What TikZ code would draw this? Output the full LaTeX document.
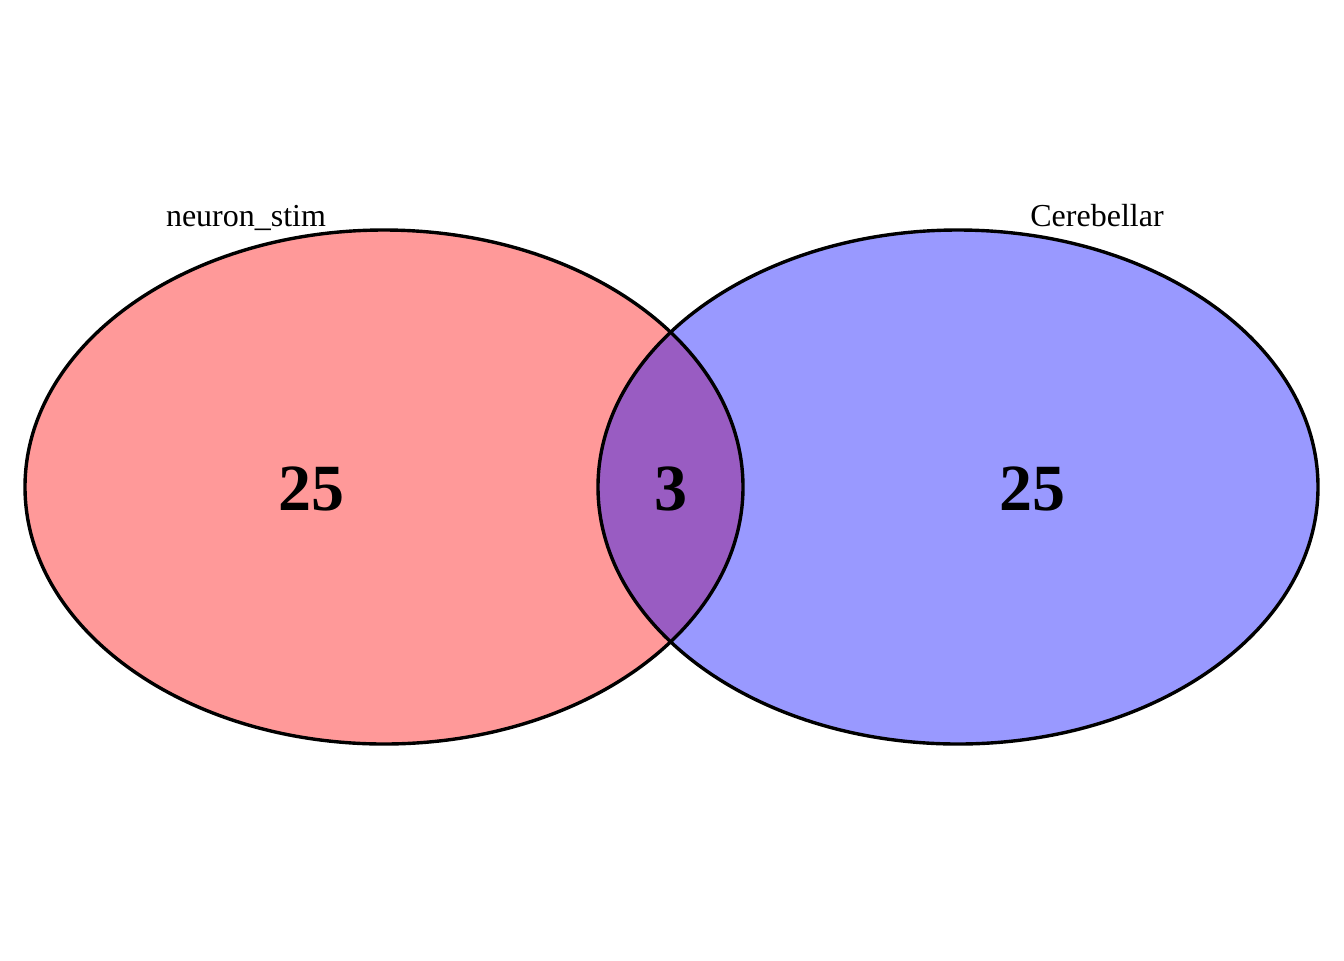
\documentclass[tikz,border=0pt]{standalone}
\usepackage{fontspec}
\setmainfont{Liberation Serif}
\begin{document}
\begin{tikzpicture}[x=0.5pt,y=-0.5pt,
  ring/.style={draw=black,line width=1.7pt},
  setname/.style={anchor=base,font=\fontsize{16}{18}\selectfont,inner sep=0pt},
  count/.style={anchor=base,font=\fontsize{33}{36}\selectfont\bfseries,inner sep=0pt}]
\useasboundingbox (0,0) rectangle (1344,960);
\fill[red,fill opacity=0.4] (384,487) ellipse [x radius=359,y radius=257];
\fill[blue,fill opacity=0.4] (958,487) ellipse [x radius=360,y radius=257];
\draw[ring] (384,487) ellipse [x radius=359,y radius=257];
\draw[ring] (958,487) ellipse [x radius=360,y radius=257];
\node[setname] (lA) at (246,226) {neuron\_stim};
\node[setname] (lB) at (1097,226) {Cerebellar};
\node[count] (nA) at (311,510) {25};
\node[count] (nAB) at (671,510) {3};
\node[count] (nB) at (1032,510) {25};
\end{tikzpicture}
\end{document}
